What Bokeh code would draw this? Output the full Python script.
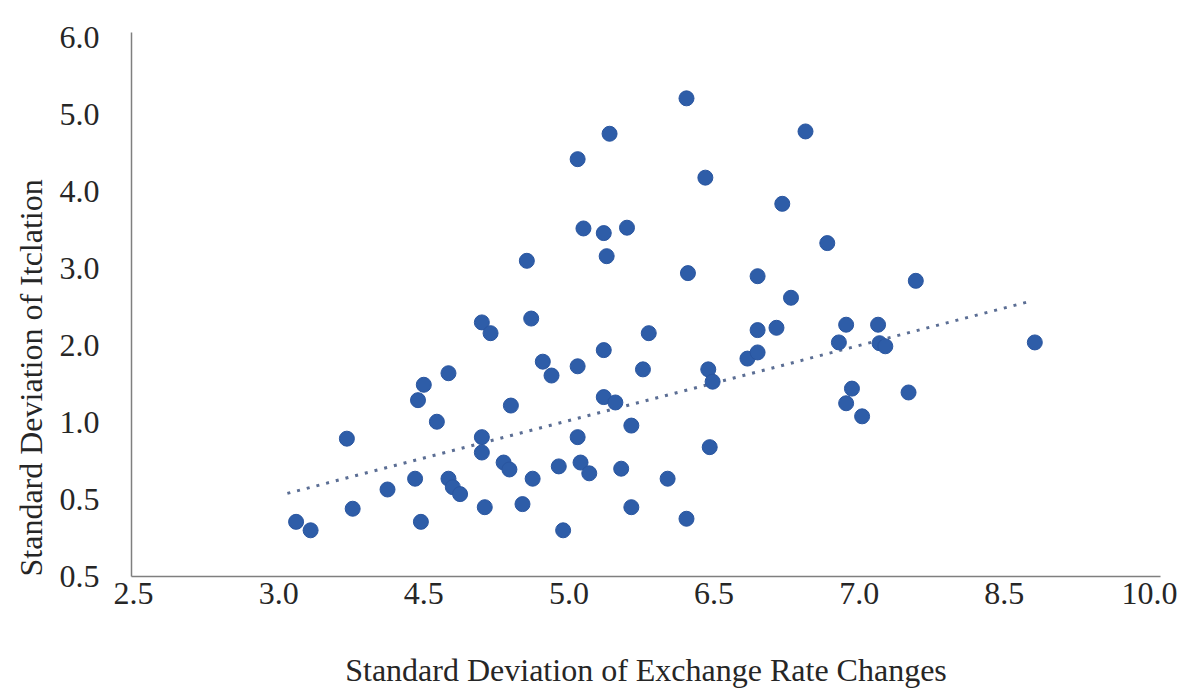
from bokeh.plotting import figure
from bokeh.models import FixedTicker, Range1d, Title
from bokeh.embed import file_html
from bokeh.resources import INLINE

# Tick labels as printed on the chart (evenly spaced tick slots 0..7)
x_tick_labels = ["2.5", "3.0", "4.5", "5.0", "6.5", "7.0", "8.5", "10.0"]
y_tick_labels = ["0.5", "0.5", "1.0", "2.0", "3.0", "4.0", "5.0", "6.0"]

x_title = "Standard Deviation of Exchange Rate Changes"
y_title = "Standard Deviation of Itclation"

# Points, in tick-slot units
x_vals = [3.81, 3.28, 4.63, 3.06, 3.94, 4.47, 3.10, 3.24, 3.40, 3.26,
          2.71, 4.78, 3.82, 4.30, 5.39, 4.53, 2.40, 2.46, 2.74, 3.55,
          4.30, 4.43, 4.91, 5.13, 2.82, 3.24, 3.06, 3.51, 4.23, 4.30,
          3.96, 3.99, 2.17, 2.88, 4.86, 5.14, 5.18, 6.21, 2.00, 1.96,
          2.09, 2.60, 3.24, 3.32, 3.43, 4.95, 4.91, 5.02, 5.34, 2.40,
          2.40, 3.06, 2.55, 2.59, 2.93, 3.08, 3.14, 3.36, 3.68, 3.97,
          1.47, 1.75, 1.94, 2.17, 2.20, 2.25, 2.75, 2.42, 2.68, 1.98,
          2.96, 3.43, 3.81, 1.51, 1.12, 1.22]
y_vals = [6.21, 5.75, 5.78, 5.42, 5.18, 4.84, 4.52, 4.46, 4.53, 4.16,
          4.10, 4.33, 3.94, 3.90, 3.84, 3.62, 3.30, 3.16, 3.35, 3.16,
          3.20, 3.23, 3.27, 3.27, 2.79, 2.94, 2.73, 2.69, 2.83, 2.91,
          2.69, 2.53, 2.64, 2.61, 3.04, 3.03, 2.99, 3.04, 2.49, 2.29,
          2.01, 2.22, 2.33, 2.26, 1.96, 2.44, 2.25, 2.08, 2.39, 1.81,
          1.61, 1.81, 1.48, 1.39, 1.43, 1.48, 1.34, 1.40, 1.27, 1.68,
          1.79, 1.13, 1.27, 1.27, 1.16, 1.07, 1.27, 0.90, 0.94, 0.71,
          0.60, 0.90, 0.75, 0.88, 0.71, 0.60]

# Linear trend line end points
trend_x = [1.06, 6.19]
trend_y = [1.08, 3.58]

FONT = "Liberation Serif"
TEXT = "#262626"

p = figure(width=1180, height=696, output_backend="svg", toolbar_location=None,
           x_range=Range1d(-0.014, 7.076), y_range=Range1d(0, 7.065),
           min_border_left=131, min_border_right=20,
           min_border_top=32, min_border_bottom=120)

p.outline_line_color = None
p.xgrid.visible = False
p.ygrid.visible = False
p.background_fill_color = "white"
p.border_fill_color = "white"

p.line(trend_x, trend_y, line_color="#5b6e94", line_width=3, line_dash="3 7")
p.scatter(x_vals, y_vals, size=15, fill_color="#2e5da8", line_color="#2a56a0",
          line_width=1)

for ax, labels in ((p.xaxis, x_tick_labels), (p.yaxis, y_tick_labels)):
    ax.ticker = FixedTicker(ticks=list(range(len(labels))))
    ax.major_label_overrides = {i: s for i, s in enumerate(labels)}
    ax.axis_line_color = "#7f7f7f"
    ax.axis_line_width = 1.5
    ax.major_tick_line_color = None
    ax.minor_tick_line_color = None
    ax.major_label_text_font = FONT
    ax.major_label_text_font_size = "32px"
    ax.major_label_text_color = TEXT

p.xaxis.major_label_standoff = 0
p.yaxis.major_label_standoff = 26

# X title as the axis label
p.xaxis.axis_label = x_title
p.xaxis.axis_label_text_font = FONT
p.xaxis.axis_label_text_font_size = "32px"
p.xaxis.axis_label_text_font_style = "normal"
p.xaxis.axis_label_text_color = TEXT
p.xaxis.axis_label_standoff = 45

# Y title starts at the bottom of the axis, as in the reference
p.add_layout(Title(text=y_title, text_font=FONT, text_font_size="32px",
                   text_font_style="normal", text_color=TEXT,
                   align="left", offset=0, standoff=16), "left")

open("out.html", "w").write(file_html(p, INLINE))
